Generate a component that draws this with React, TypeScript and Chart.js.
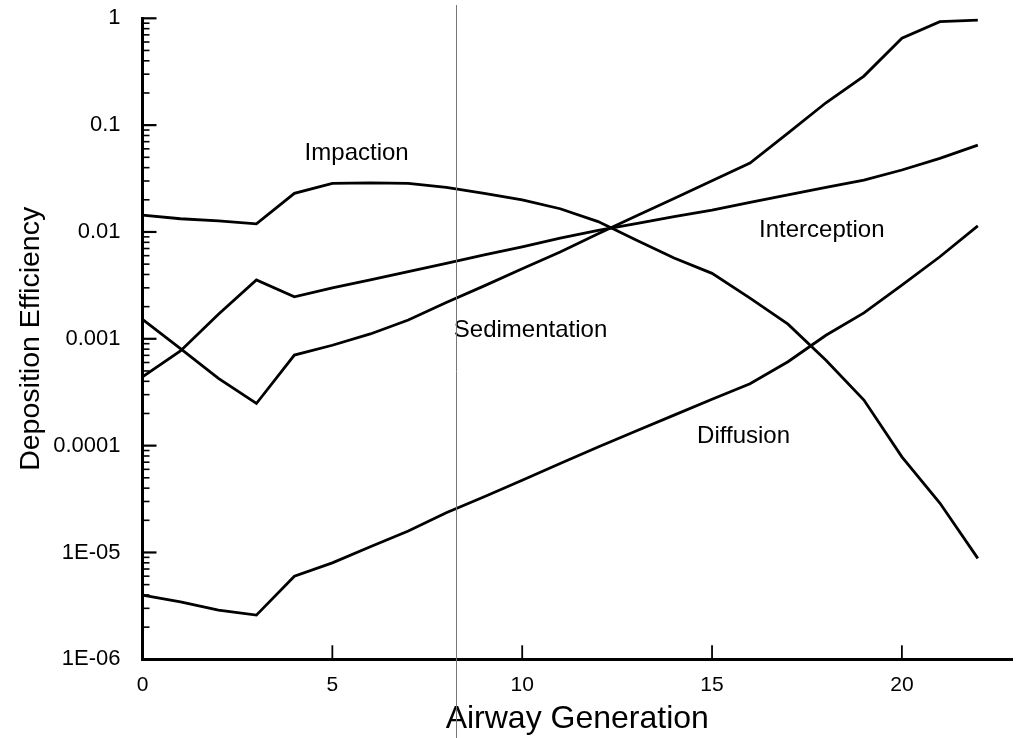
import { useEffect, useRef } from "react";
import { Chart, registerables } from "chart.js";

Chart.register(...registerables);

// Airway generation number (0 = trachea)
const generations = [0, 1, 2, 3, 4, 5, 6, 7, 8, 9, 10, 11, 12, 13, 14, 15, 16, 17, 18, 19, 20, 21, 22];

// Deposition efficiency per mechanism
const impaction = [
  0.0144, 0.0133, 0.0127, 0.0119, 0.023, 0.0285, 0.0288, 0.0285, 0.0262, 0.023, 0.02, 0.0165,
  0.0125, 0.0084, 0.0057, 0.0041, 0.0024, 0.00137, 0.00063, 0.000267, 0.0000785, 0.000029, 0.0000088,
];
const interception = [
  0.00044, 0.00077, 0.0017, 0.00355, 0.00247, 0.003, 0.00357, 0.00425, 0.00508, 0.0061, 0.00726,
  0.00877, 0.01035, 0.012, 0.0139, 0.016, 0.0189, 0.0223, 0.0261, 0.0306, 0.038, 0.0489, 0.065,
];
const sedimentation = [
  0.00152, 0.00081, 0.000426, 0.000248, 0.000704, 0.00087, 0.00111, 0.0015, 0.00219, 0.00313,
  0.00452, 0.0065, 0.0096, 0.0141, 0.0206, 0.0302, 0.0442, 0.084, 0.162, 0.288, 0.65, 0.93, 0.96,
];
const diffusion = [
  3.98e-6, 3.45e-6, 2.88e-6, 2.59e-6, 6.0e-6, 8.0e-6, 1.13e-5, 1.59e-5, 2.35e-5, 3.32e-5, 4.75e-5,
  6.8e-5, 9.7e-5, 1.37e-4, 1.93e-4, 2.72e-4, 3.8e-4, 6.1e-4, 1.08e-3, 1.75e-3, 3.18e-3, 5.86e-3, 1.14e-2,
];

const seriesNames = ["Impaction", "Interception", "Sedimentation", "Diffusion"];
const seriesValues = [impaction, interception, sedimentation, diffusion];

// Labels of the decade ticks on the logarithmic axis, keyed by exponent
const yTickLabels: Record<number, string> = {
  0: "1",
  [-1]: "0.1",
  [-2]: "0.01",
  [-3]: "0.001",
  [-4]: "0.0001",
  [-5]: "1E-05",
  [-6]: "1E-06",
};
const xTickValues = [0, 5, 10, 15, 20];

// Curve names written beside each line (generation, efficiency)
const curveLabels = [
  { text: "Impaction", x: 5.64, y: 0.0548 },
  { text: "Sedimentation", x: 10.22, y: 0.00121 },
  { text: "Interception", x: 17.89, y: 0.0104 },
  { text: "Diffusion", x: 15.83, y: 0.000121 },
];

// Generation marked by the thin vertical reference line
const markerGeneration = 8.25;

const FONT = '"Liberation Sans", Arial, Helvetica, sans-serif';

const axisDecor = {
  id: "axisDecor",
  afterDraw(chart: any) {
    const { ctx, chartArea, scales } = chart;
    const x = scales.x;
    const y = scales.y;
    const line = (x1: number, y1: number, x2: number, y2: number) => {
      ctx.beginPath();
      ctx.moveTo(x1, y1);
      ctx.lineTo(x2, y2);
      ctx.stroke();
    };
    ctx.save();
    ctx.strokeStyle = "#000";
    // inward major and minor ticks on the log axis
    for (let e = -6; e <= 0; e++) {
      for (let k = 1; k <= 9; k++) {
        const v = k * Math.pow(10, e);
        if (v > 1.0000001) break;
        const py = y.getPixelForValue(v);
        const major = k === 1;
        ctx.lineWidth = major ? 2.2 : 1.6;
        line(chartArea.left, py, chartArea.left + (major ? 14 : 7), py);
      }
    }
    // inward ticks on the generation axis
    ctx.lineWidth = 1.8;
    xTickValues.forEach((v) => {
      const px = x.getPixelForValue(v);
      line(px, chartArea.bottom, px, chartArea.bottom - 14);
    });
    // curve names
    ctx.fillStyle = "#000";
    ctx.font = `24px ${FONT}`;
    ctx.textAlign = "center";
    ctx.textBaseline = "middle";
    curveLabels.forEach((l) => {
      ctx.fillText(l.text, x.getPixelForValue(l.x), y.getPixelForValue(l.y));
    });
    // thin vertical reference line
    const mx = Math.round(x.getPixelForValue(markerGeneration)) + 0.5;
    ctx.strokeStyle = "#777";
    ctx.lineWidth = 1;
    line(mx, 5, mx, chart.height);
    ctx.restore();
  },
};

export default function App() {
  const canvasRef = useRef<HTMLCanvasElement | null>(null);

  useEffect(() => {
    if (!canvasRef.current) return;
    const chart = new Chart(canvasRef.current, {
      type: "line",
      data: {
        datasets: seriesNames.map((name, i) => ({
          label: name,
          data: generations.map((g, j) => ({ x: g, y: seriesValues[i][j] })),
          borderColor: "#000",
          borderWidth: 2.8,
          pointRadius: 0,
          tension: 0,
          fill: false,
        })),
      },
      options: {
        animation: false,
        responsive: false,
        layout: { padding: { top: 18.3, right: 6, left: 0, bottom: 0 } },
        plugins: {
          legend: { display: false },
          tooltip: { enabled: false },
        },
        scales: {
          x: {
            type: "linear",
            min: 0,
            max: 22.9,
            afterFit: (s: any) => {
              s.height = 78.7;
              s.paddingLeft = 0;
              s.paddingRight = 0;
            },
            grid: { display: false },
            border: { display: true, color: "#000", width: 3 },
            ticks: {
              stepSize: 5,
              includeBounds: false,
              autoSkip: false,
              maxRotation: 0,
              padding: 5,
              color: "#000",
              font: { family: FONT, size: 21 },
              callback: (v: any) => String(v),
            },
            title: {
              display: true,
              text: "Airway Generation",
              color: "#000",
              font: { family: FONT, size: 32 },
              padding: { top: 0, bottom: 0 },
            },
          },
          y: {
            type: "logarithmic",
            min: 1e-6,
            max: 1,
            afterFit: (s: any) => {
              s.width = 142.5;
              s.paddingTop = 0;
              s.paddingBottom = 0;
            },
            grid: { display: false },
            border: { display: true, color: "#000", width: 3 },
            ticks: {
              autoSkip: false,
              padding: 14,
              color: "#000",
              font: { family: FONT, size: 22 },
              callback: (v: any) => {
                const e = Math.log10(Number(v));
                const r = Math.round(e);
                return Math.abs(e - r) < 1e-6 && yTickLabels[r] !== undefined ? yTickLabels[r] : "";
              },
            },
            title: {
              display: true,
              text: "Deposition Efficiency",
              color: "#000",
              font: { family: FONT, size: 28.5 },
              padding: { top: 14, bottom: 0 },
            },
          },
        },
      },
      plugins: [axisDecor],
    });
    return () => chart.destroy();
  }, []);

  return (
    <div style={{ position: "absolute", left: 0, top: 0, width: 1018, height: 738, background: "#fff" }}>
      <canvas ref={canvasRef} width={1018} height={738} style={{ display: "block" }} />
    </div>
  );
}
